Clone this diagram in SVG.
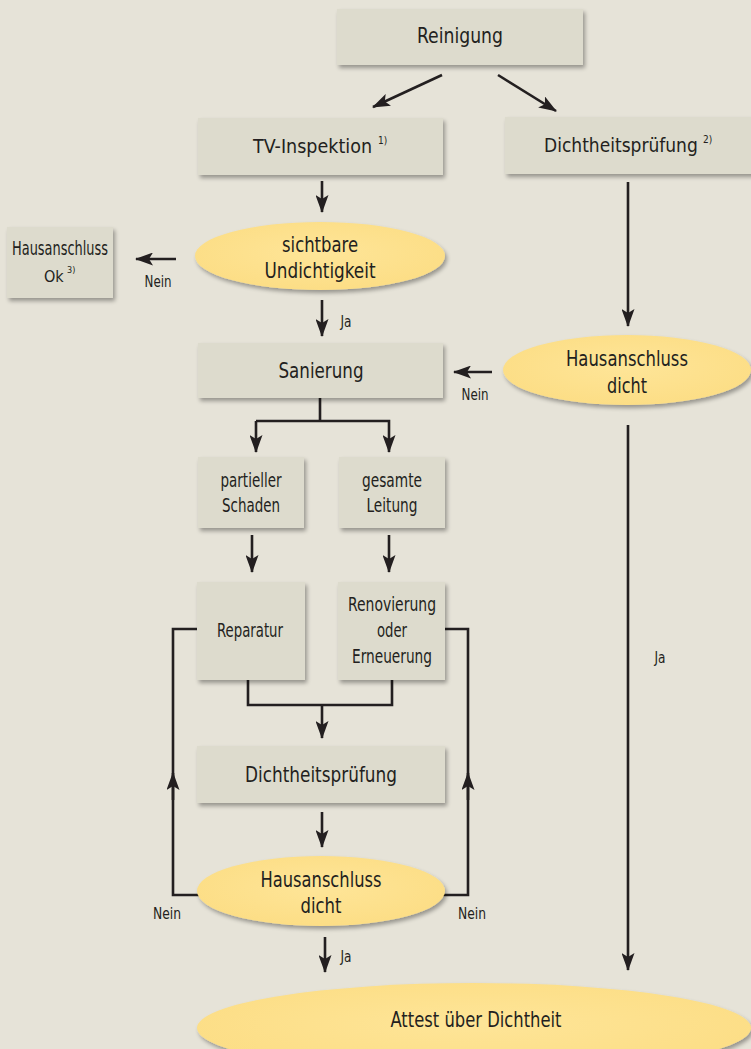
<svg xmlns="http://www.w3.org/2000/svg" width="751" height="1049" viewBox="0 0 751 1049">
<style>
text{font-family:"DejaVu Sans Condensed","Liberation Sans Narrow","Liberation Sans",sans-serif;font-stretch:condensed;fill:#231f20;text-anchor:middle}
.box{fill:#dddbcd;filter:url(#sh)}
.ell{fill:url(#yg);filter:url(#sh)}
.t{font-size:22px}
.m{font-size:19px}
.s{font-size:15px}
.sup{font-size:10px;text-anchor:start}
.st{text-anchor:start}
.ln{fill:none;stroke:#231f20;stroke-width:2.6}
</style>
<defs>
<filter id="sh" x="-10%" y="-10%" width="125%" height="130%">
<feGaussianBlur in="SourceAlpha" stdDeviation="2"/>
<feOffset dx="2" dy="3"/>
<feComponentTransfer><feFuncA type="linear" slope="0.35"/></feComponentTransfer>
<feMerge><feMergeNode/><feMergeNode in="SourceGraphic"/></feMerge>
</filter>
<radialGradient id="yg" cx="0.5" cy="0.45" r="0.6">
<stop offset="0" stop-color="#fee598"/>
<stop offset="1" stop-color="#fcdd84"/>
</radialGradient>
<marker id="ah" viewBox="0 0 18 13" refX="17" refY="6.5" markerWidth="18" markerHeight="13" markerUnits="userSpaceOnUse" orient="auto">
<path d="M0,0 L18,6.5 L0,13 L4,6.5 Z" fill="#231f20"/>
</marker>
</defs>
<rect width="751" height="1049" fill="#e6e3d8"/>

<g id="connectors">
<line class="ln" x1="442" y1="75" x2="373" y2="107" marker-end="url(#ah)"/>
<line class="ln" x1="498" y1="75" x2="556" y2="111" marker-end="url(#ah)"/>
<line class="ln" x1="322" y1="181" x2="322" y2="212" marker-end="url(#ah)"/>
<line class="ln" x1="176" y1="259" x2="136" y2="259" marker-end="url(#ah)"/>
<text class="s" x="158" y="287" textLength="27" lengthAdjust="spacingAndGlyphs">Nein</text>
<line class="ln" x1="322" y1="300" x2="322" y2="336" marker-end="url(#ah)"/>
<text class="s" x="346" y="327" textLength="11" lengthAdjust="spacingAndGlyphs">Ja</text>
<line class="ln" x1="492" y1="372" x2="454" y2="372" marker-end="url(#ah)"/>
<text class="s" x="475" y="400" textLength="27" lengthAdjust="spacingAndGlyphs">Nein</text>
<line class="ln" x1="628" y1="182" x2="628" y2="326" marker-end="url(#ah)"/>
<line class="ln" x1="628" y1="425" x2="628" y2="970" marker-end="url(#ah)"/>
<text class="s" x="660" y="663" textLength="11" lengthAdjust="spacingAndGlyphs">Ja</text>
<polyline class="ln" points="320,398 320,421"/>
<polyline class="ln" points="256,421 389,421 389,452" marker-end="url(#ah)"/>
<line class="ln" x1="256" y1="421" x2="256" y2="452" marker-end="url(#ah)"/>
<line class="ln" x1="252" y1="535" x2="252" y2="572" marker-end="url(#ah)"/>
<line class="ln" x1="389" y1="535" x2="389" y2="572" marker-end="url(#ah)"/>
<polyline class="ln" points="248,680 248,705 392,705 392,680"/>
<line class="ln" x1="322" y1="705" x2="322" y2="738" marker-end="url(#ah)"/>
<line class="ln" x1="322" y1="812" x2="322" y2="847" marker-end="url(#ah)"/>
<polyline class="ln" points="200,895 173,895 173,629 198,629"/>
<line class="ln" x1="173" y1="800" x2="173" y2="773" marker-end="url(#ah)"/>
<polyline class="ln" points="443,895 468,895 468,629 445,629"/>
<line class="ln" x1="468" y1="800" x2="468" y2="773" marker-end="url(#ah)"/>
<text class="s" x="167" y="919" textLength="28" lengthAdjust="spacingAndGlyphs">Nein</text>
<text class="s" x="472" y="919" textLength="28" lengthAdjust="spacingAndGlyphs">Nein</text>
<line class="ln" x1="325" y1="937" x2="325" y2="972" marker-end="url(#ah)"/>
<text class="s" x="346" y="962" textLength="11" lengthAdjust="spacingAndGlyphs">Ja</text>
</g>

<g id="reinigung"><rect class="box" x="337" y="9" width="246" height="56"/><text class="t" x="460" y="43" textLength="86" lengthAdjust="spacingAndGlyphs">Reinigung</text></g>
<g id="tv"><rect class="box" x="198" y="118" width="245" height="57"/><text class="st" x="253" y="153" style="font-size:19.5px">TV-Inspektion</text><text class="sup" x="378" y="144">1)</text></g>
<g id="dicht1"><rect class="box" x="505" y="117" width="252" height="57"/><text class="st" x="544" y="152" style="font-size:19px">Dichtheitsprüfung</text><text class="sup" x="703" y="143">2)</text></g>
<g id="sichtbar"><ellipse class="ell" cx="320" cy="256" rx="125" ry="34"/><text class="t" x="320" y="252" textLength="76" lengthAdjust="spacingAndGlyphs">sichtbare</text><text class="t" x="320" y="278" textLength="111" lengthAdjust="spacingAndGlyphs">Undichtigkeit</text></g>
<g id="ok"><rect class="box" x="7" y="227" width="106" height="71"/><text class="m" x="60" y="255" textLength="96" lengthAdjust="spacingAndGlyphs">Hausanschluss</text><text class="st" x="44" y="282" style="font-size:16px">Ok</text><text class="sup" x="67" y="273" style="font-size:9px">3)</text></g>
<g id="sanierung"><rect class="box" x="198" y="343" width="245" height="55"/><text class="t" x="321" y="378" textLength="85" lengthAdjust="spacingAndGlyphs">Sanierung</text></g>
<g id="dicht2"><ellipse class="ell" cx="627" cy="370" rx="124" ry="35"/><text class="t" x="627" y="366" textLength="122" lengthAdjust="spacingAndGlyphs">Hausanschluss</text><text class="t" x="627" y="393" textLength="40" lengthAdjust="spacingAndGlyphs">dicht</text></g>
<g id="partiell"><rect class="box" x="198" y="457" width="106" height="71"/><text class="m" x="251" y="487" textLength="61" lengthAdjust="spacingAndGlyphs">partieller</text><text class="m" x="251" y="512" textLength="58" lengthAdjust="spacingAndGlyphs">Schaden</text></g>
<g id="gesamt"><rect class="box" x="339" y="457" width="106" height="71"/><text class="m" x="392" y="487" textLength="60" lengthAdjust="spacingAndGlyphs">gesamte</text><text class="m" x="392" y="512" textLength="51" lengthAdjust="spacingAndGlyphs">Leitung</text></g>
<g id="reparatur"><rect class="box" x="197" y="582" width="108" height="98"/><text class="m" x="250" y="637" textLength="66" lengthAdjust="spacingAndGlyphs">Reparatur</text></g>
<g id="renovierung"><rect class="box" x="338" y="582" width="107" height="98"/><text class="m" x="392" y="611" textLength="88" lengthAdjust="spacingAndGlyphs">Renovierung</text><text class="m" x="392" y="637" textLength="30" lengthAdjust="spacingAndGlyphs">oder</text><text class="m" x="392" y="663" textLength="80" lengthAdjust="spacingAndGlyphs">Erneuerung</text></g>
<g id="dicht3"><rect class="box" x="197" y="746" width="248" height="57"/><text class="t" x="321" y="782" textLength="152" lengthAdjust="spacingAndGlyphs">Dichtheitsprüfung</text></g>
<g id="dicht4"><ellipse class="ell" cx="321" cy="891" rx="124" ry="35"/><text class="t" x="321" y="887" textLength="121" lengthAdjust="spacingAndGlyphs">Hausanschluss</text><text class="t" x="321" y="913" textLength="41" lengthAdjust="spacingAndGlyphs">dicht</text></g>
<g id="attest"><ellipse class="ell" cx="474" cy="1028" rx="277" ry="45"/><text class="t" x="476" y="1027" textLength="171" lengthAdjust="spacingAndGlyphs">Attest über Dichtheit</text></g>
</svg>
